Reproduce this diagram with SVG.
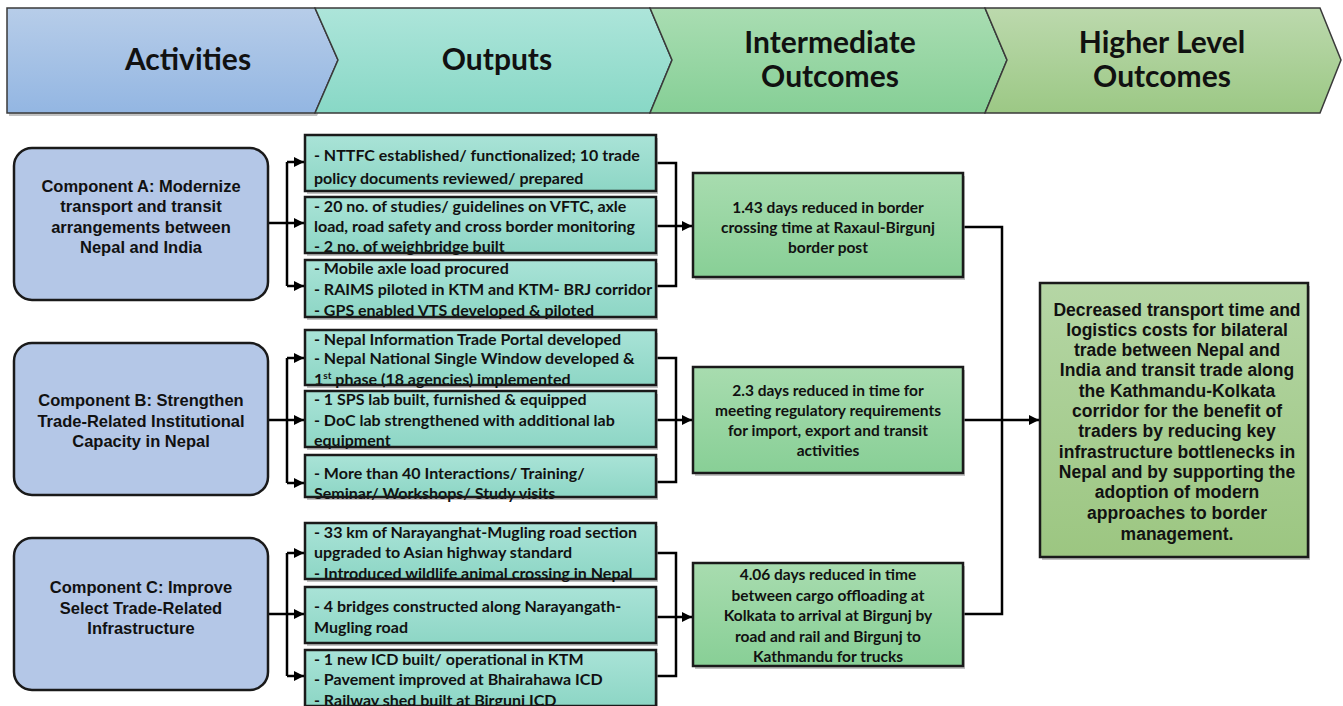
<svg xmlns="http://www.w3.org/2000/svg" width="1343" height="706" viewBox="0 0 1343 706">
<defs>
  <linearGradient id="gAct" x1="0" y1="0" x2="0" y2="1"><stop offset="0" stop-color="#b7cde9"/><stop offset="1" stop-color="#93b6e2"/></linearGradient>
  <linearGradient id="gOut" x1="0" y1="0" x2="0" y2="1"><stop offset="0" stop-color="#ade5da"/><stop offset="1" stop-color="#88d8c6"/></linearGradient>
  <linearGradient id="gInt" x1="0" y1="0" x2="0" y2="1"><stop offset="0" stop-color="#a9ddb2"/><stop offset="1" stop-color="#86cf96"/></linearGradient>
  <linearGradient id="gHi" x1="0" y1="0" x2="0" y2="1"><stop offset="0" stop-color="#bcd9ad"/><stop offset="1" stop-color="#9cc885"/></linearGradient>
  <linearGradient id="gOutBox" x1="0" y1="0" x2="0" y2="1"><stop offset="0" stop-color="#a9e3d7"/><stop offset="1" stop-color="#8dd6c5"/></linearGradient>
  <linearGradient id="gIntBox" x1="0" y1="0" x2="0" y2="1"><stop offset="0" stop-color="#a8dcaf"/><stop offset="1" stop-color="#88cf96"/></linearGradient>
  <linearGradient id="gHiBox" x1="0" y1="0" x2="0" y2="1"><stop offset="0" stop-color="#b5d6a5"/><stop offset="1" stop-color="#9cc681"/></linearGradient>
  <marker id="arr" viewBox="0 0 10 10" refX="10" refY="5" markerWidth="4" markerHeight="4" orient="auto" markerUnits="strokeWidth">
    <path d="M0,0 L10,5 L0,10 z" fill="#000"/>
  </marker>
</defs>
<style>
  .hdr { stroke:#3a3a3a; stroke-width:1.5; }
  .htxt { font-family:"Lato","Open Sans",sans-serif; font-weight:bold; font-size:30px; fill:#111; text-anchor:middle; }
  .comp { fill:#b4c7e7; stroke:#1a1a1a; stroke-width:2.5; }
  .ctxt { font-family:"Liberation Sans",Arial,sans-serif; font-weight:bold; font-size:16.5px; fill:#111; text-anchor:middle; }
  .obox { fill:url(#gOutBox); }
  .ibox { fill:url(#gIntBox); }
  .hbox { fill:url(#gHiBox); }
  .edge { fill:none; stroke:#1a1a1a; stroke-width:2.5; }
  .shadow { fill:#9a9a9a; opacity:0.6; }
  .otxt { font-family:"Lato","Open Sans",sans-serif; font-weight:bold; font-size:16px; fill:#111; }
  .itxt { font-family:"Lato","Open Sans",sans-serif; font-weight:bold; font-size:15.5px; fill:#111; text-anchor:middle; }
  .hitxt { font-family:"Liberation Sans",Arial,sans-serif; font-weight:bold; font-size:17.5px; fill:#111; text-anchor:middle; }
  .conn { fill:none; stroke:#000; stroke-width:2.5; }
</style>
<rect width="1343" height="706" fill="#ffffff"/>

<g id="header">
  <polygon class="shadow" points="9,11 317,11 340,63 317,116 9,116"/>
  <polygon class="hdr" fill="url(#gAct)" points="7,8 315,8 338,60 315,113 7,113"/>
  <polygon class="hdr" fill="url(#gOut)" points="315,8 650,8 672,60 650,113 315,113 338,60"/>
  <polygon class="hdr" fill="url(#gInt)" points="650,8 985,8 1007,60 985,113 650,113 672,60"/>
  <polygon class="hdr" fill="url(#gHi)" points="985,8 1320,8 1341,60 1320,113 985,113 1007,60"/>
  <text class="htxt" x="188" y="70">Activities</text>
  <text class="htxt" x="497" y="70">Outputs</text>
  <text class="htxt" x="830" y="53">Intermediate</text>
  <text class="htxt" x="830" y="87">Outcomes</text>
  <text class="htxt" x="1162" y="53">Higher Level</text>
  <text class="htxt" x="1162" y="87">Outcomes</text>
</g>

<g id="connectors">
  <path class="conn" d="M268,223 H287"/>
  <path class="conn" d="M287,162 V286"/>
  <path class="conn" d="M287,162 H304" marker-end="url(#arr)"/>
  <path class="conn" d="M287,223 H304" marker-end="url(#arr)"/>
  <path class="conn" d="M287,286 H304" marker-end="url(#arr)"/>
  <path class="conn" d="M268,420 H287"/>
  <path class="conn" d="M287,358 V483"/>
  <path class="conn" d="M287,358 H304" marker-end="url(#arr)"/>
  <path class="conn" d="M287,420 H304" marker-end="url(#arr)"/>
  <path class="conn" d="M287,483 H304" marker-end="url(#arr)"/>
  <path class="conn" d="M268,614 H287"/>
  <path class="conn" d="M287,553 V676"/>
  <path class="conn" d="M287,553 H304" marker-end="url(#arr)"/>
  <path class="conn" d="M287,614 H304" marker-end="url(#arr)"/>
  <path class="conn" d="M287,676 H304" marker-end="url(#arr)"/>
  <path class="conn" d="M656,163 H676 V286 H656"/>
  <path class="conn" d="M656,226 H692" marker-end="url(#arr)"/>
  <path class="conn" d="M656,358 H676 V482 H656"/>
  <path class="conn" d="M656,420 H692" marker-end="url(#arr)"/>
  <path class="conn" d="M656,553 H676 V676 H656"/>
  <path class="conn" d="M656,617 H692" marker-end="url(#arr)"/>
  <path class="conn" d="M963,227 H1002 V614 H963"/>
  <path class="conn" d="M963,420 H1039" marker-end="url(#arr)"/>
</g>

<g id="compA">
  <rect class="comp" x="14" y="148" width="254" height="152" rx="18"/>
  <text class="ctxt" x="141" y="192">Component A: Modernize</text>
  <text class="ctxt" x="141" y="212">transport and transit</text>
  <text class="ctxt" x="141" y="233">arrangements between</text>
  <text class="ctxt" x="141" y="253">Nepal and India</text>
</g>
<g id="compB">
  <rect class="comp" x="14" y="343" width="254" height="152" rx="18"/>
  <text class="ctxt" x="141" y="406">Component B: Strengthen</text>
  <text class="ctxt" x="141" y="427">Trade-Related Institutional</text>
  <text class="ctxt" x="141" y="447">Capacity in Nepal</text>
</g>
<g id="compC">
  <rect class="comp" x="14" y="538" width="254" height="152" rx="18"/>
  <text class="ctxt" x="141" y="593">Component C: Improve</text>
  <text class="ctxt" x="141" y="614">Select Trade-Related</text>
  <text class="ctxt" x="141" y="634">Infrastructure</text>
</g>

<g id="outA1">
  <rect class="shadow" x="307" y="138" width="351" height="56"/>
  <rect class="obox" x="305" y="135" width="351" height="56"/>
  <text class="otxt" x="314" y="161">- NTTFC established/ functionalized; 10 trade</text>
  <text class="otxt" x="314" y="184">policy documents reviewed/ prepared</text>
  <rect class="edge" x="305" y="135" width="351" height="56"/>
</g>
<g id="outA2">
  <rect class="shadow" x="307" y="200" width="351" height="56"/>
  <rect class="obox" x="305" y="197" width="351" height="56"/>
  <text class="otxt" x="314" y="212">- 20 no. of studies/ guidelines on VFTC, axle</text>
  <text class="otxt" x="314" y="232">load, road safety and cross border monitoring</text>
  <text class="otxt" x="314" y="252">- 2 no. of weighbridge built</text>
  <rect class="edge" x="305" y="197" width="351" height="56"/>
</g>
<g id="outA3">
  <rect class="shadow" x="307" y="263" width="351" height="57"/>
  <rect class="obox" x="305" y="260" width="351" height="57"/>
  <text class="otxt" x="314" y="274">- Mobile axle load procured</text>
  <text class="otxt" x="314" y="295">- RAIMS piloted in KTM and KTM-  BRJ corridor</text>
  <text class="otxt" x="314" y="316">- GPS enabled VTS developed &amp; piloted</text>
  <rect class="edge" x="305" y="260" width="351" height="57"/>
</g>

<g id="outB1">
  <rect class="shadow" x="307" y="333" width="351" height="55"/>
  <rect class="obox" x="305" y="330" width="351" height="55"/>
  <text class="otxt" x="314" y="345">- Nepal Information Trade Portal developed</text>
  <text class="otxt" x="314" y="364">- Nepal National Single Window developed &amp;</text>
  <text class="otxt" x="314" y="385">1<tspan font-size="10" dy="-6">st</tspan><tspan dy="6"> phase (18 agencies) implemented</tspan></text>
  <rect class="edge" x="305" y="330" width="351" height="55"/>
</g>
<g id="outB2">
  <rect class="shadow" x="307" y="394" width="351" height="56"/>
  <rect class="obox" x="305" y="391" width="351" height="56"/>
  <text class="otxt" x="314" y="405">- 1 SPS lab built, furnished &amp; equipped</text>
  <text class="otxt" x="314" y="426">- DoC lab strengthened with additional lab</text>
  <text class="otxt" x="314" y="446">equipment</text>
  <rect class="edge" x="305" y="391" width="351" height="56"/>
</g>
<g id="outB3">
  <rect class="shadow" x="307" y="458" width="351" height="42"/>
  <rect class="obox" x="305" y="455" width="351" height="42"/>
  <text class="otxt" x="314" y="479">- More than 40 Interactions/ Training/</text>
  <text class="otxt" x="314" y="499">Seminar/ Workshops/ Study visits</text>
  <rect class="edge" x="305" y="455" width="351" height="42"/>
</g>

<g id="outC1">
  <rect class="shadow" x="307" y="526" width="351" height="56"/>
  <rect class="obox" x="305" y="523" width="351" height="56"/>
  <text class="otxt" x="314" y="538">- 33 km of Narayanghat-Mugling  road section</text>
  <text class="otxt" x="314" y="558">upgraded to Asian highway standard</text>
  <text class="otxt" x="314" y="579">- Introduced wildlife animal crossing in Nepal</text>
  <rect class="edge" x="305" y="523" width="351" height="56"/>
</g>
<g id="outC2">
  <rect class="shadow" x="307" y="590" width="351" height="56"/>
  <rect class="obox" x="305" y="587" width="351" height="56"/>
  <text class="otxt" x="314" y="612">- 4 bridges constructed along   Narayangath-</text>
  <text class="otxt" x="314" y="633">Mugling  road</text>
  <rect class="edge" x="305" y="587" width="351" height="56"/>
</g>
<g id="outC3">
  <rect class="shadow" x="307" y="653" width="351" height="56"/>
  <rect class="obox" x="305" y="650" width="351" height="56"/>
  <text class="otxt" x="314" y="665">- 1 new ICD built/ operational in KTM</text>
  <text class="otxt" x="314" y="685">- Pavement improved at  Bhairahawa ICD</text>
  <text class="otxt" x="314" y="706">- Railway shed built at   Birgunj ICD</text>
  <rect class="edge" x="305" y="650" width="351" height="56"/>
</g>

<g id="int1">
  <rect class="shadow" x="695" y="176" width="270" height="104"/>
  <rect class="ibox" x="693" y="173" width="270" height="104"/>
  <text class="itxt" x="828" y="213">1.43 days reduced in border</text>
  <text class="itxt" x="828" y="233">crossing time at  Raxaul-Birgunj</text>
  <text class="itxt" x="828" y="253">border post</text>
  <rect class="edge" x="693" y="173" width="270" height="104"/>
</g>
<g id="int2">
  <rect class="shadow" x="695" y="370" width="270" height="106"/>
  <rect class="ibox" x="693" y="367" width="270" height="106"/>
  <text class="itxt" x="828" y="396">2.3 days reduced in time for</text>
  <text class="itxt" x="828" y="416">meeting regulatory requirements</text>
  <text class="itxt" x="828" y="436">for import, export and transit</text>
  <text class="itxt" x="828" y="456">activities</text>
  <rect class="edge" x="693" y="367" width="270" height="106"/>
</g>
<g id="int3">
  <rect class="shadow" x="695" y="566" width="270" height="103"/>
  <rect class="ibox" x="693" y="563" width="270" height="103"/>
  <text class="itxt" x="828" y="580">4.06 days reduced  in time</text>
  <text class="itxt" x="828" y="601">between cargo offloading at</text>
  <text class="itxt" x="828" y="621">Kolkata to arrival at  Birgunj by</text>
  <text class="itxt" x="828" y="642">road and rail and  Birgunj to</text>
  <text class="itxt" x="828" y="662">Kathmandu for trucks</text>
  <rect class="edge" x="693" y="563" width="270" height="103"/>
</g>

<g id="higher">
  <rect class="shadow" x="1042" y="286" width="268" height="274"/>
  <rect class="hbox" x="1040" y="283" width="268" height="274"/>
  <text class="hitxt" x="1177" y="316">Decreased transport time and</text>
  <text class="hitxt" x="1177" y="336">logistics costs for bilateral</text>
  <text class="hitxt" x="1177" y="356">trade between Nepal and</text>
  <text class="hitxt" x="1177" y="376">India and transit trade along</text>
  <text class="hitxt" x="1177" y="397">the Kathmandu-Kolkata</text>
  <text class="hitxt" x="1177" y="417">corridor for the benefit of</text>
  <text class="hitxt" x="1177" y="437">traders by reducing key</text>
  <text class="hitxt" x="1177" y="458">infrastructure bottlenecks in</text>
  <text class="hitxt" x="1177" y="478">Nepal and by supporting the</text>
  <text class="hitxt" x="1177" y="498">adoption of modern</text>
  <text class="hitxt" x="1177" y="519">approaches to border</text>
  <text class="hitxt" x="1177" y="540">management.</text>
  <rect class="edge" x="1040" y="283" width="268" height="274"/>
</g>
</svg>
